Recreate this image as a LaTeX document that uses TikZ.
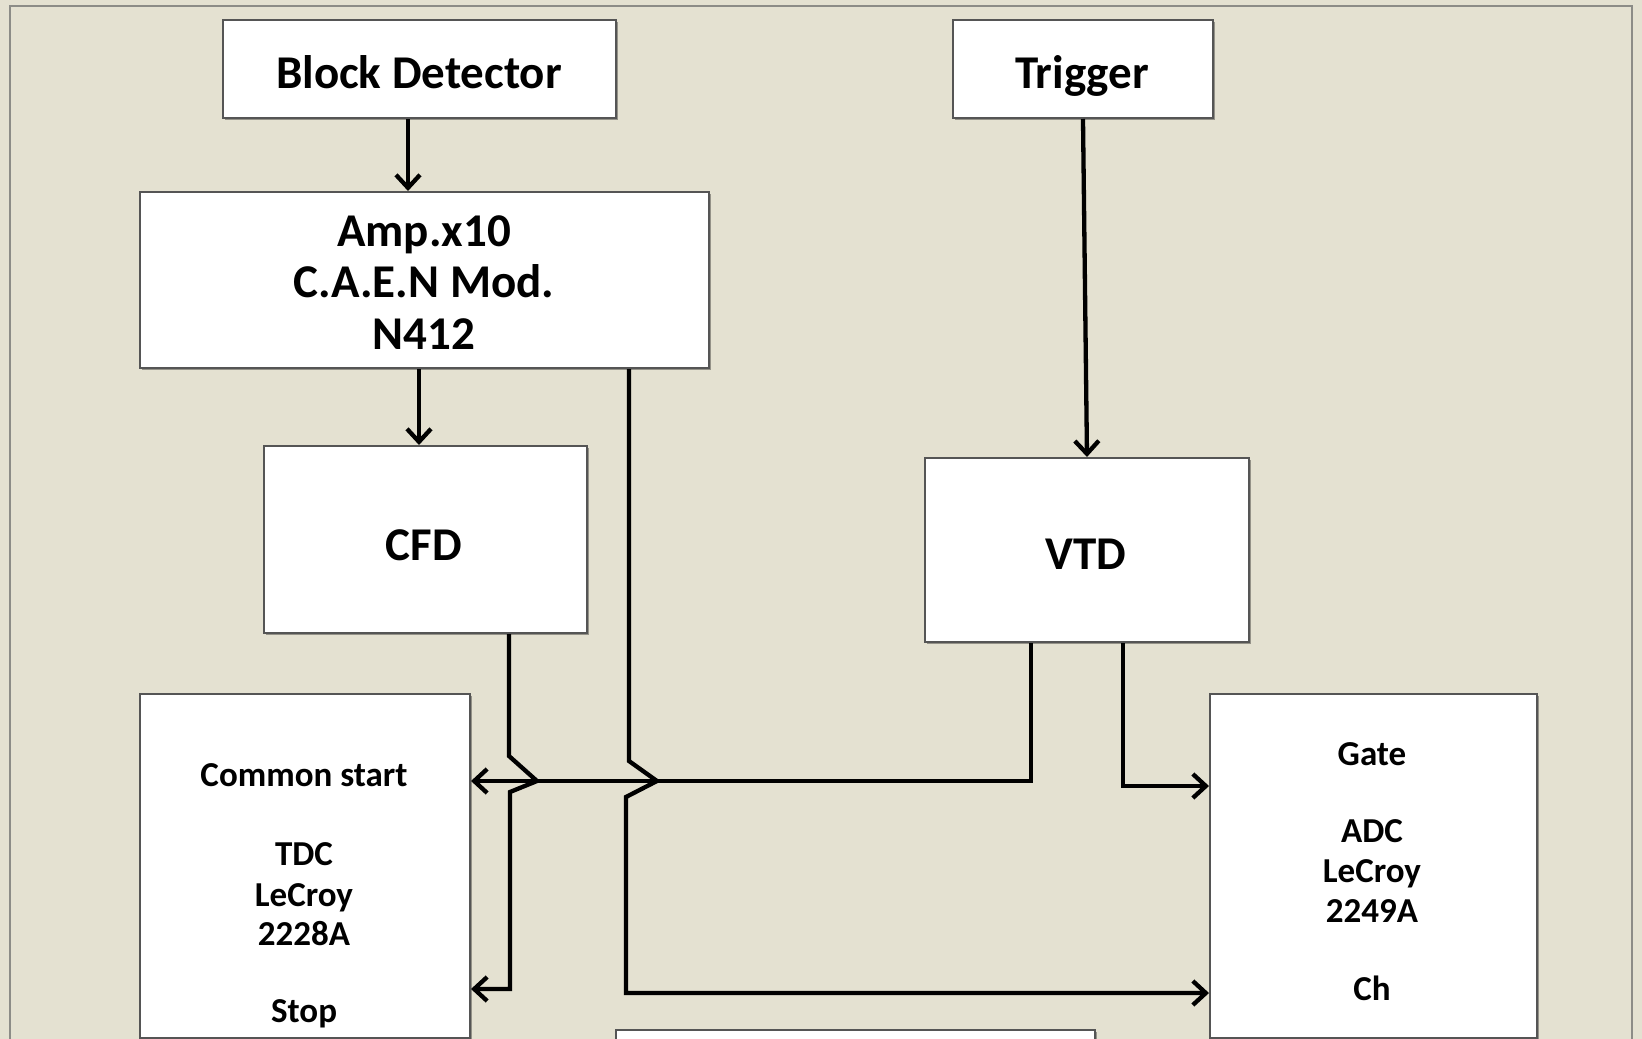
\documentclass[tikz,border=0pt]{standalone}
\usepackage{fontspec}
\setmainfont{Carlito}
\usetikzlibrary{arrows.meta,shadows}
\definecolor{bgbeige}{RGB}{228,225,209}
\definecolor{framegray}{RGB}{140,140,135}
\definecolor{boxgray}{RGB}{85,85,85}
\begin{document}
\begin{tikzpicture}[x=1pt,y=-1pt,
  box/.style={draw=boxgray, line width=2pt, fill=white, inner sep=0pt, anchor=north west,
    drop shadow={shadow xshift=2pt, shadow yshift=-2pt, opacity=0.35, fill=black}},
  big/.style={font=\bfseries\fontsize{47}{51}\selectfont, anchor=base, inner sep=0pt},
  small/.style={font=\bfseries\fontsize{35}{40}\selectfont, anchor=base, inner sep=0pt},
  wire/.style={line width=4.3pt, line join=miter},
  arr/.style={wire, -{Straight Barb[length=13pt,width=24pt]}}]
\useasboundingbox (0,0) rectangle (1642,1039);
\clip (0,0) rectangle (1642,1039);
\fill[bgbeige] (0,0) rectangle (1642,1039);
\draw[framegray, line width=1.5pt] (10,1060) -- (10,6) -- (1632,6) -- (1632,1060);

% boxes
\node[box, minimum width=393pt, minimum height=98pt] (bd) at (222,19) {};
\node[box, minimum width=260pt, minimum height=98pt] (trig) at (952,19) {};
\node[box, minimum width=569pt, minimum height=176pt] (amp) at (139,191) {};
\node[box, minimum width=323pt, minimum height=187pt] (cfd) at (263,445) {};
\node[box, minimum width=324pt, minimum height=184pt] (vtd) at (924,457) {};
\node[box, minimum width=330pt, minimum height=344pt] (tdc) at (139,693) {};
\node[box, minimum width=327pt, minimum height=344pt] (adc) at (1209,693) {};
\node[box, minimum width=479pt, minimum height=40pt] (bot) at (615,1029) {};

% texts
\node[big] (tbd) at (419,88) {Block Detector};
\node[big] (ttrig) at (1082,88) {Trigger};
\node[big] (tamp1) at (424,246) {Amp.x10};
\node[big] (tamp2) at (424,297) {C.A.E.N Mod.};
\node[big] (tamp3) at (424,349) {N412};
\node[big] (tcfd) at (424,560) {CFD};
\node[big] (tvtd) at (1086,569) {VTD};
\node[small] (ttdc1) at (304,786) {Common start};
\node[small] (ttdc2) at (304,865) {TDC};
\node[small] (ttdc3) at (304,906) {LeCroy};
\node[small] (ttdc4) at (304,945) {2228A};
\node[small] (ttdc5) at (304,1022) {Stop};
\node[small] (tadc1) at (1372,765) {Gate};
\node[small] (tadc2) at (1372,842) {ADC};
\node[small] (tadc3) at (1372,882) {LeCroy};
\node[small] (tadc4) at (1372,922) {2249A};
\node[small] (tadc5) at (1372,1000) {Ch};

% wires
\coordinate (xbd) at (408,0);
\draw[arr] (bd.south -| xbd) -- (amp.north -| xbd);
\coordinate (xac) at (419,0);
\draw[arr] (amp.south -| xac) -- (cfd.north -| xac);
\draw[arr] (trig.south) -- (vtd.north);
\coordinate (xvl) at (1031,781);
\draw[arr] (vtd.south -| xvl) -- (xvl) -- (tdc.east |- xvl);
\coordinate (xvr) at (1123,786);
\draw[arr] (vtd.south -| xvr) -- (xvr) -- (adc.west |- xvr);
\coordinate (c1) at (509,756);
\coordinate (c2) at (537,781);
\coordinate (c3) at (510,792);
\coordinate (c4) at (510,989);
\draw[arr] (cfd.south -| c1) -- (c1) -- (c2) -- (c3) -- (c4) -- (tdc.east |- c4);
\coordinate (a1) at (629,761);
\coordinate (a2) at (657,781);
\coordinate (a3) at (626,797);
\coordinate (a4) at (626,993);
\draw[arr] (amp.south -| a1) -- (a1) -- (a2) -- (a3) -- (a4) -- (adc.west |- a4);
\end{tikzpicture}
\end{document}
